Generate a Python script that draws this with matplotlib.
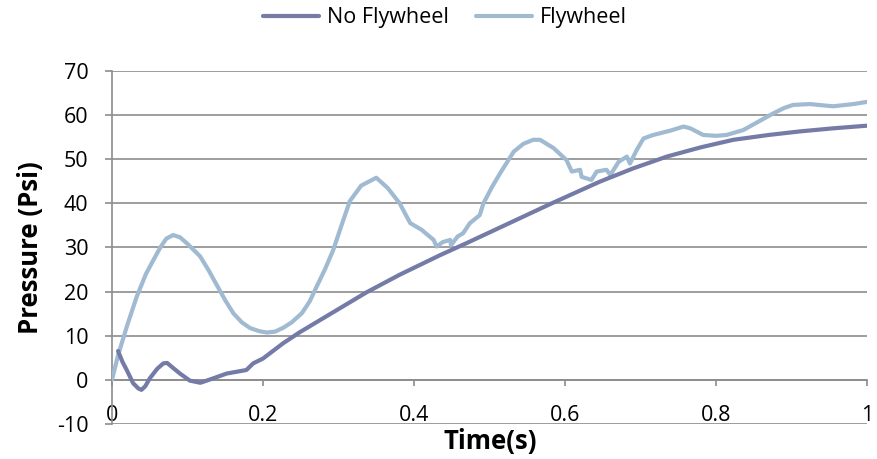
import matplotlib
matplotlib.use("Agg")
import matplotlib.pyplot as plt

# ---- data ----
fly_t = [0.0, 0.008, 0.0195, 0.0327, 0.045, 0.0547, 0.064, 0.072, 0.081, 0.09, 0.1, 0.1166,
         0.128, 0.139, 0.15, 0.161, 0.172, 0.183, 0.195, 0.205, 0.216, 0.227, 0.238, 0.249,
         0.252, 0.262, 0.271, 0.282, 0.293, 0.302, 0.315, 0.33, 0.35, 0.365, 0.381, 0.395,
         0.41, 0.426, 0.430, 0.438, 0.448, 0.449, 0.458, 0.465, 0.474, 0.487, 0.492, 0.503,
         0.514, 0.532, 0.545, 0.558, 0.567, 0.585, 0.602, 0.609, 0.62, 0.622, 0.635, 0.642,
         0.655, 0.66, 0.671, 0.682, 0.686, 0.695, 0.704, 0.717, 0.74, 0.757, 0.766, 0.783,
         0.8, 0.814, 0.836, 0.856, 0.876, 0.89, 0.902, 0.924, 0.955, 0.982, 1.0]
fly_p = [0.0, 5.5, 12.0, 18.8, 24.0, 27.1, 30.0, 32.0, 32.8, 32.3, 30.8, 28.0,
         24.8, 21.4, 18.0, 15.0, 13.0, 11.7, 11.0, 10.7, 10.9, 11.8, 13.0, 14.7,
         15.2, 17.8, 21.1, 25.0, 29.4, 34.0, 40.5, 44.0, 45.8, 43.5, 40.0, 35.5,
         34.0, 31.7, 30.2, 31.2, 31.7, 30.5, 32.5, 33.2, 35.5, 37.3, 40.0, 43.6,
         46.8, 51.7, 53.5, 54.4, 54.4, 52.5, 49.8, 47.2, 47.6, 46.0, 45.3, 47.2,
         47.6, 46.4, 49.4, 50.6, 49.0, 52.1, 54.7, 55.5, 56.5, 57.4, 57.0, 55.5,
         55.3, 55.5, 56.6, 58.5, 60.4, 61.6, 62.3, 62.5, 62.0, 62.5, 63.0]

nofly_t = [0.008, 0.014, 0.0195, 0.028, 0.035, 0.039, 0.044, 0.05, 0.06, 0.068, 0.073, 0.08,
           0.09, 0.103, 0.117, 0.134, 0.152, 0.178, 0.187, 0.2, 0.227, 0.249, 0.293, 0.337,
           0.381, 0.434, 0.47, 0.53, 0.58, 0.646, 0.69, 0.735, 0.78, 0.823, 0.87, 0.911,
           0.955, 1.0]
nofly_p = [6.5, 4.0, 2.2, -0.8, -2.0, -2.3, -1.5, 0.3, 2.5, 3.7, 3.8, 2.8,
           1.4, -0.2, -0.7, 0.3, 1.4, 2.2, 3.7, 4.8, 8.3, 10.8, 15.3, 19.8,
           23.8, 28.2, 31.0, 35.8, 39.8, 44.9, 47.9, 50.6, 52.7, 54.4, 55.5, 56.3,
           57.0, 57.6]

x_ticks = [0, 0.2, 0.4, 0.6, 0.8, 1.0]
x_tick_labels = ["0", "0.2", "0.4", "0.6", "0.8", "1"]
y_ticks = [-10, 0, 10, 20, 30, 40, 50, 60, 70]
series_names = ["No Flywheel", "Flywheel"]

# ---- style ----
plt.rcParams['font.family'] = ['Open Sans', 'DejaVu Sans']
plt.rcParams['axes.unicode_minus'] = False
W, H = 877, 459
fig = plt.figure(figsize=(W / 100, H / 100), dpi=100)
ax = fig.add_axes([112 / W, (H - 423.8) / H, (867 - 112) / W, (423.8 - 71) / H])

dark = '#747BA6'
light = '#A0BAD2'
grid_c = '#8C8C8C'

ax.plot(nofly_t, nofly_p, color=dark, lw=3.0, solid_capstyle='round', solid_joinstyle='round',
        label=series_names[0], zorder=4)
ax.plot(fly_t, fly_p, color=light, lw=3.0, solid_capstyle='round', solid_joinstyle='round',
        label=series_names[1], zorder=3)

ax.set_xlim(0, 1.0)
ax.set_ylim(-10, 70)
ax.set_yticks(y_ticks)
ax.set_xticks(x_ticks)
ax.set_xticklabels(x_tick_labels)

for y in y_ticks:
    ax.axhline(y, color=grid_c, lw=1.2, zorder=1)

for s in ['top', 'right']:
    ax.spines[s].set_visible(False)
ax.spines['left'].set_color(grid_c)
ax.spines['left'].set_linewidth(1.2)
ax.spines['bottom'].set_position(('data', 0))
ax.spines['bottom'].set_color(grid_c)
ax.spines['bottom'].set_linewidth(1.2)

fs = 15.5
ax.tick_params(axis='y', length=5, width=1.2, color=grid_c, pad=12, labelsize=fs, labelcolor='black')
ax.tick_params(axis='x', length=4, width=1.2, color=grid_c, pad=14, labelsize=fs, labelcolor='black')

ax.set_xlabel("Time(s)", fontsize=18.5, fontweight='bold', va='center')
ax.xaxis.set_label_coords((490 - 112) / (867 - 112), -(442 - 423.8) / (423.8 - 71))
ax.set_ylabel("Pressure (Psi)", fontsize=18.5, fontweight='bold', va='center')
ax.yaxis.set_label_coords(-(112 - 31) / (867 - 112), (423.8 - 247.5) / (423.8 - 71))

fig.legend(loc='center', bbox_to_anchor=(445 / W, 1 - 18 / H), ncol=2, frameon=False,
           fontsize=fs, handlelength=2.6, handletextpad=0.35, columnspacing=1.3)

fig.savefig("out.png", dpi=100)
